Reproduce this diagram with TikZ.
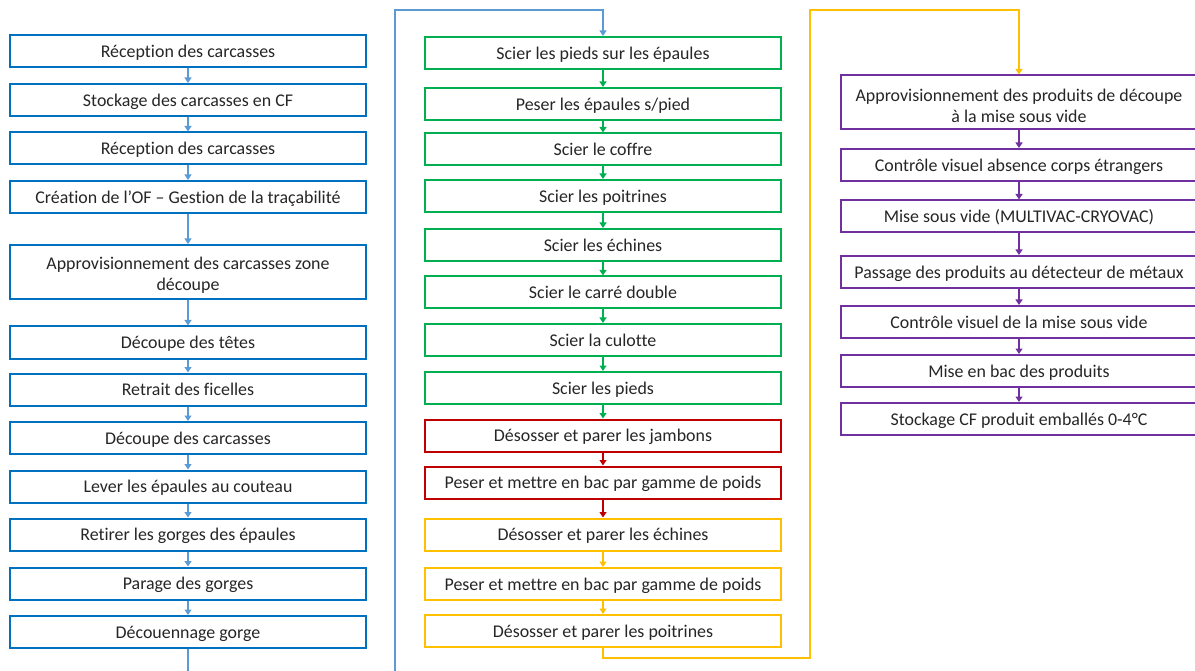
\documentclass[tikz,border=0pt]{standalone}
\usepackage{fontspec}
\setmainfont{Carlito}[Ligatures=CommonOff]
\usetikzlibrary{arrows.meta}
\definecolor{boxblue}{HTML}{0070C0}
\definecolor{lineblue}{HTML}{5B9BD5}
\definecolor{boxgreen}{HTML}{00B050}
\definecolor{boxred}{HTML}{C00000}
\definecolor{boxyellow}{HTML}{FFC000}
\definecolor{boxpurple}{HTML}{7030A0}
% taller first line so two-line labels sit a little lower in their box
\newcommand{\topstrut}{\rule{0pt}{19pt}}
\begin{document}
\begin{tikzpicture}[x=1pt,y=-1pt,
  stepbox/.style={draw=#1, line width=2pt, minimum width=356pt, minimum height=32pt,
    inner sep=2pt, align=center, fill=white, text=black!85,
    text height=14pt, text depth=1.5pt,
    font=\fontsize{17.9}{21}\selectfont},
  tallbox/.style={stepbox=#1, minimum height=54pt, text height={}, text depth={}},
  link/.style={draw=#1, line width=1.2pt, -{Triangle[width=7pt,length=5.5pt,fill=#1]}},
]
\useasboundingbox (0,0) rectangle (1195,671);

% first column: reception to throat trimming
\node[stepbox=boxblue] (a1) at (188,51) {Réception des carcasses};
\node[stepbox=boxblue] (a2) at (188,100) {Stockage des carcasses en CF};
\node[stepbox=boxblue] (a3) at (188,148.5) {Réception des carcasses};
\node[stepbox=boxblue] (a4) at (188,197) {Création de l’OF – Gestion de la traçabilité};
\node[tallbox=boxblue] (a5) at (188,272) {\topstrut Approvisionnement des carcasses zone\\découpe};
\node[stepbox=boxblue] (a6) at (188,342.5) {Découpe des têtes};
\node[stepbox=boxblue] (a7) at (188,389.5) {Retrait des ficelles};
\node[stepbox=boxblue] (a8) at (188,438) {Découpe des carcasses};
\node[stepbox=boxblue] (a9) at (188,486.5) {Lever les épaules au couteau};
\node[stepbox=boxblue] (a10) at (188,534.5) {Retirer les gorges des épaules};
\node[stepbox=boxblue] (a11) at (188,583.5) {Parage des gorges};
\node[stepbox=boxblue] (a12) at (188,632) {Découennage gorge};

% second column: sawing, boning, weighing
\node[stepbox=boxgreen] (b1) at (603,53) {Scier les pieds sur les épaules};
\node[stepbox=boxgreen] (b2) at (603,104) {Peser les épaules s/pied};
\node[stepbox=boxgreen] (b3) at (603,149.5) {Scier le coffre};
\node[stepbox=boxgreen] (b4) at (603,196) {Scier les poitrines};
\node[stepbox=boxgreen] (b5) at (603,245) {Scier les échines};
\node[stepbox=boxgreen] (b6) at (603,292.5) {Scier le carré double};
\node[stepbox=boxgreen] (b7) at (603,340) {Scier la culotte};
\node[stepbox=boxgreen] (b8) at (603,388) {Scier les pieds};
\node[stepbox=boxred] (b9) at (603,435.5) {Désosser et parer les jambons};
\node[stepbox=boxred] (b10) at (603,482.5) {Peser et mettre en bac par gamme de poids};
\node[stepbox=boxyellow] (b11) at (603,534.5) {Désosser et parer les échines};
\node[stepbox=boxyellow] (b12) at (603,584) {Peser et mettre en bac par gamme de poids};
\node[stepbox=boxyellow] (b13) at (603,631) {Désosser et parer les poitrines};

% third column: vacuum packing and storage
\node[tallbox=boxpurple] (c1) at (1019,102.5) {\topstrut Approvisionnement des produits de découpe\\à la mise sous vide};
\node[stepbox=boxpurple] (c2) at (1019,165) {Contrôle visuel absence corps étrangers};
\node[stepbox=boxpurple] (c3) at (1019,216.5) {Mise sous vide (MULTIVAC-CRYOVAC)};
\node[stepbox=boxpurple] (c4) at (1019,272) {Passage des produits au détecteur de métaux};
\node[stepbox=boxpurple] (c5) at (1019,322) {Contrôle visuel de la mise sous vide};
\node[stepbox=boxpurple] (c6) at (1019,371) {Mise en bac des produits};
\node[stepbox=boxpurple] (c7) at (1019,419) {Stockage CF produit emballés 0-4°C};

% links inside the columns
\foreach \i/\j in {1/2,2/3,3/4,4/5,5/6,6/7,7/8,8/9,9/10,10/11,11/12}
  \draw[link=lineblue] (a\i.south) -- (a\j.north);
\foreach \i/\j in {1/2,2/3,3/4,4/5,5/6,6/7,7/8,8/9}
  \draw[link=boxgreen] (b\i.south) -- (b\j.north);
\foreach \i/\j in {9/10,10/11}
  \draw[link=boxred] (b\i.south) -- (b\j.north);
\foreach \i/\j in {11/12,12/13}
  \draw[link=boxyellow] (b\i.south) -- (b\j.north);
\foreach \i/\j in {1/2,2/3,3/4,4/5,5/6,6/7}
  \draw[link=boxpurple] (c\i.south) -- (c\j.north);

% links from one column to the next
\draw[link=lineblue] (a12.south) -- (188,700) -| (395,10) -| (b1.north);
\draw[link=boxyellow] (b13.south) -- (603,658) -| (810,10) -| (c1.north);
\end{tikzpicture}
\end{document}
